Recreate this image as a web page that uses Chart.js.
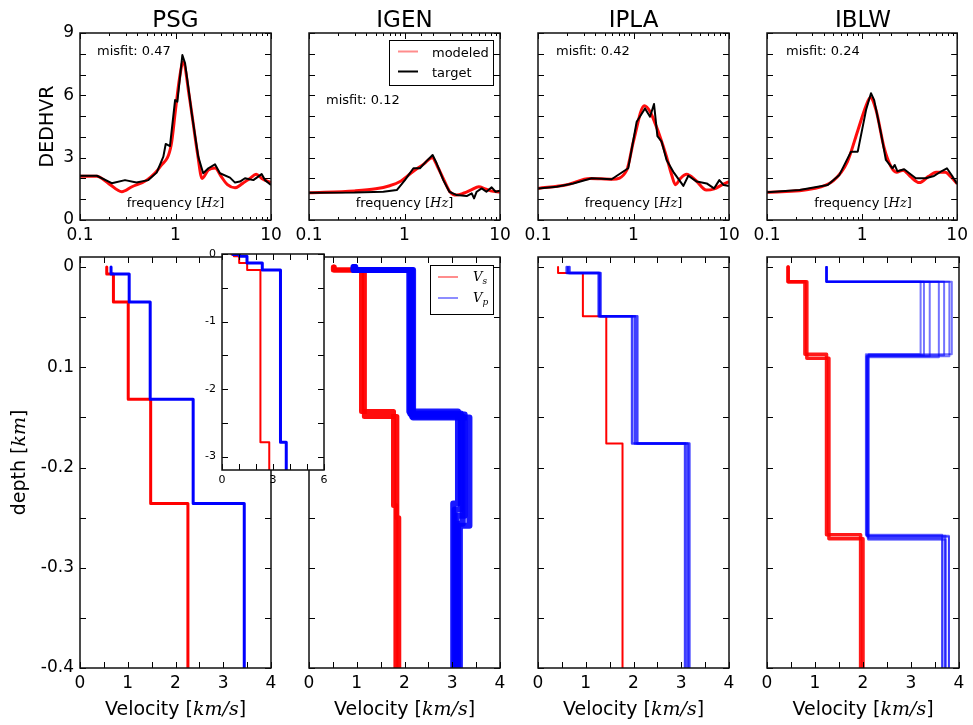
<!DOCTYPE html>
<html>
<head>
<meta charset="utf-8">
<title>HVSR inversion</title>
<script src="https://cdn.jsdelivr.net/npm/chart.js@4.4.0/dist/chart.umd.min.js"></script>
<style>
  html, body { margin: 0; padding: 0; background: #fff; }
  #page { position: relative; width: 973px; height: 725px; }
  #page canvas { position: absolute; left: 0; top: 0; }
</style>
</head>
<body>
<div id="page"></div>
<script>
// ---------- HVSR curves: frequency [Hz] / amplitude ----------
const stations = ['PSG', 'IGEN', 'IPLA', 'IBLW'];
const misfits = ['0.47', '0.12', '0.42', '0.24'];

const psgTargetF = [0.1, 0.15, 0.215, 0.296, 0.39, 0.52, 0.635, 0.746, 0.79, 0.875, 0.99, 1.045, 1.18, 1.26, 1.36, 1.48, 1.73, 1.95, 2.21, 2.59, 2.92, 3.72, 4.2, 4.73, 5.34, 6.53, 7.98, 8.65, 10];
const psgTargetA = [2.13, 2.13, 1.77, 1.92, 1.80, 1.92, 2.28, 3.05, 3.66, 3.56, 5.77, 5.69, 7.94, 7.54, 6.41, 5.13, 3.05, 2.25, 2.49, 2.68, 2.25, 2.04, 1.80, 1.85, 2.01, 1.92, 2.21, 1.92, 1.68];
const psgModelF = [0.1, 0.15, 0.2, 0.274, 0.35, 0.5, 0.7, 0.9, 1.0, 1.1, 1.2, 1.4, 1.7, 1.9, 2.2, 2.6, 3.0, 3.5, 4.2, 5, 6, 7, 8, 10];
const psgModelA = [2.1, 2.1, 1.75, 1.36, 1.6, 1.92, 2.6, 3.6, 5.3, 6.8, 7.6, 5.9, 3.2, 2.0, 2.4, 2.5, 2.1, 1.7, 1.55, 1.75, 2.0, 2.2, 2.0, 1.8];

const igenTargetF = [0.1, 0.3, 0.6, 0.83, 1.01, 1.24, 1.45, 1.68, 1.97, 2.17, 2.55, 2.95, 3.52, 4.48, 5.06, 5.35, 5.7, 6.43, 7.2, 8.18, 9.0, 10];
const igenTargetA = [1.31, 1.32, 1.36, 1.44, 1.92, 2.49, 2.49, 2.81, 3.13, 2.73, 1.92, 1.36, 1.20, 1.15, 1.28, 1.04, 1.36, 1.52, 1.36, 1.57, 1.36, 1.41];
const igenModelF = [0.1, 0.3, 0.5, 0.7, 0.9, 1.2, 1.6, 1.95, 2.2, 2.6, 3.0, 3.5, 4.2, 5, 6, 7, 8, 10];
const igenModelA = [1.31, 1.4, 1.5, 1.65, 1.85, 2.3, 2.7, 3.0, 2.6, 1.9, 1.35, 1.2, 1.3, 1.45, 1.6, 1.5, 1.4, 1.35];

const iplaTargetF = [0.1, 0.157, 0.234, 0.365, 0.59, 0.88, 1.08, 1.32, 1.49, 1.64, 1.78, 1.97, 2.22, 2.61, 3.33, 3.75, 4.59, 5.84, 6.97, 7.92, 8.8, 10];
const iplaTargetA = [1.52, 1.6, 1.76, 2.01, 1.96, 2.49, 4.73, 5.37, 4.97, 5.58, 4.04, 3.77, 2.89, 2.32, 1.64, 2.13, 1.85, 1.76, 1.52, 1.92, 1.68, 1.64];
const iplaModelF = [0.1, 0.2, 0.35, 0.6, 0.85, 1.0, 1.3, 1.5, 1.7, 1.9, 2.2, 2.5, 2.75, 3.1, 3.6, 4.5, 5.8, 7, 8.5, 10];
const iplaModelA = [1.52, 1.7, 2.0, 1.96, 2.4, 3.8, 5.5, 5.2, 4.6, 4.0, 3.1, 2.2, 1.7, 2.0, 2.2, 1.9, 1.44, 1.5, 1.7, 1.85];

const iblwTargetF = [0.1, 0.22, 0.435, 0.577, 0.765, 0.9, 1.1, 1.24, 1.34, 1.58, 1.78, 2.09, 2.2, 2.35, 2.77, 3.67, 4.67, 5.71, 6.97, 7.8, 8.87, 10];
const iblwTargetA = [1.33, 1.44, 1.68, 2.17, 3.29, 3.29, 5.29, 6.10, 5.77, 4.17, 2.89, 2.49, 2.65, 2.35, 2.44, 2.01, 2.01, 2.12, 2.37, 2.49, 2.12, 1.73];
const iblwModelF = [0.1, 0.3, 0.5, 0.7, 0.9, 1.1, 1.22, 1.4, 1.7, 2.0, 2.3, 2.7, 3.2, 4.0, 5, 6, 7.5, 8.5, 10];
const iblwModelA = [1.33, 1.5, 1.9, 2.8, 4.3, 5.5, 5.9, 5.3, 3.5, 2.6, 2.3, 2.4, 2.1, 1.8, 2.1, 2.3, 2.3, 2.1, 1.75];

// ---------- velocity profiles: layer interfaces [km] / velocities [km/s] ----------
const psgDepth = [0, -0.007, -0.035, -0.132, -0.236, -2.79, -3.2];
const psgVs = [0.56, 0.70, 1.01, 1.48, 2.26, 2.78];
const psgVp = [0.65, 1.03, 1.47, 2.37, 3.44, 3.78];

const igenVsDepths = [[0, -0.003, -0.144, -0.238, -0.4], [0, -0.003, -0.149, -0.25, -0.4]];
const igenVsModels = [[0.51, 1.10, 1.77, 1.82], [0.53, 1.16, 1.84, 1.88]];
const igenVpDepths = [
  [0, -0.003, -0.144, -0.236, -0.4], [0, -0.003, -0.146, -0.242, -0.4], [0, -0.003, -0.147, -0.248, -0.4],
  [0, -0.003, -0.149, -0.256, -0.4], [0, -0.003, -0.150, -0.258, -0.4]
];
const igenVpModels = [
  [0.93, 2.10, 3.12, 3.02], [0.94, 2.12, 3.18, 3.05], [0.95, 2.14, 3.26, 3.09],
  [0.96, 2.16, 3.22, 3.12], [0.97, 2.18, 3.36, 3.16]
];

const iplaDepth = [0, -0.006, -0.049, -0.176, -0.4];
const iplaVs = [0.42, 0.94, 1.43, 1.77];
const iplaVpModels = [[0.60, 1.27, 1.97, 3.08], [0.63, 1.29, 2.03, 3.13], [0.66, 1.31, 2.08, 3.17]];

const iblwVsDepths = [[0, -0.0146, -0.087, -0.267, -0.4], [0, -0.0146, -0.091, -0.271, -0.4]];
const iblwVsModels = [[0.44, 0.79, 1.24, 1.95], [0.44, 0.83, 1.29, 2.00]];
const iblwVpZ1 = -0.0146;
const iblwVpZ2 = [-0.087, -0.088, -0.089, -0.090, -0.088, -0.089, -0.087];
const iblwVpZ3 = [-0.267, -0.268, -0.269, -0.271, -0.272, -0.268, -0.270];
const iblwVp1 = 1.24;
const iblwVp2 = [3.20, 3.27, 3.39, 3.58, 3.69, 3.80, 3.85];
const iblwVp3 = [2.06, 2.08, 2.09, 2.10, 2.11, 2.07, 2.12];
const iblwVp4 = [3.65, 3.72, 3.79, 3.65, 3.72, 3.79, 3.70];

// ---------- tick labels ----------
const hvLabels = ['0', '3', '6', '9'];
const depthTickLabels = { '0': '0', '-10': '0.1', '-20': '-0.2', '-30': '-0.3', '-40': '-0.4' };

// ---------- layout ----------
const W = 973, H = 725;
const COLS = [[80, 271], [309, 500], [538, 729], [767, 959]];
const TOP = [33, 220];
const BOT = [257, 668];
const INSET = [222, 254, 324, 470];
const SANS = '"DejaVu Sans", sans-serif';
const MATH = '"DejaVu Serif", serif';
const page = document.getElementById('page');

const sans = (text, size, dy) => ({ text, font: `${size}px ${SANS}`, dy: dy || 0 });
const math = (text, size, dy) => ({ text, font: `italic ${size}px ${MATH}`, dy: dy || 0 });

const pts = (xs, ys) => xs.map((x, i) => ({ x, y: ys[i] }));

// vertical step profile: each velocity holds between two interfaces
function steps(depths, vels) {
  const out = [];
  vels.forEach((v, i) => { out.push({ x: v, y: depths[i] }, { x: v, y: depths[i + 1] }); });
  return out;
}

function curve(data, color, width, order, smooth) {
  return {
    data, showLine: true, borderColor: color, borderWidth: width, pointRadius: 0,
    order, cubicInterpolationMode: smooth ? 'monotone' : 'default', tension: 0,
    borderJoinStyle: 'round', borderCapStyle: 'butt'
  };
}

function drawRuns(ctx, it) {
  ctx.save();
  ctx.translate(it.x, it.y);
  if (it.rotate) ctx.rotate(it.rotate);
  ctx.textBaseline = 'alphabetic';
  ctx.textAlign = 'left';
  ctx.fillStyle = '#000';
  let total = 0;
  it.runs.forEach(r => { ctx.font = r.font; r.w = ctx.measureText(r.text).width; total += r.w; });
  let x = it.align === 'left' ? 0 : -total / 2;
  it.runs.forEach(r => { ctx.font = r.font; ctx.fillText(r.text, x, r.dy); x += r.w; });
  ctx.restore();
}

// frame round the plot area, with inward ticks on all four sides
const framePlugin = {
  id: 'frame',
  beforeDraw(chart, args, opts) {
    if (!opts.white) return;
    const a = chart.chartArea, ctx = chart.ctx;
    ctx.save();
    ctx.fillStyle = '#fff';
    ctx.fillRect(a.left, a.top, a.right - a.left, a.bottom - a.top);
    ctx.restore();
  },
  afterDraw(chart, args, opts) {
    const { ctx, chartArea: a, scales } = chart;
    const major = opts.major || 6, minor = opts.minor || 3;
    ctx.save();
    ctx.strokeStyle = '#000';
    ctx.lineWidth = 1;
    ctx.beginPath();
    scales.x.ticks.forEach(t => {
      const p = Math.round(scales.x.getPixelForValue(t.value)) + 0.5;
      let len = major;
      if (scales.x.type === 'logarithmic') {
        const e = Math.log10(t.value);
        len = Math.abs(e - Math.round(e)) < 1e-6 ? major : minor;
      }
      ctx.moveTo(p, a.bottom); ctx.lineTo(p, a.bottom - len);
      ctx.moveTo(p, a.top); ctx.lineTo(p, a.top + len);
    });
    scales.y.ticks.forEach(t => {
      const p = Math.round(scales.y.getPixelForValue(t.value)) + 0.5;
      ctx.moveTo(a.left, p); ctx.lineTo(a.left + major, p);
      ctx.moveTo(a.right, p); ctx.lineTo(a.right - major, p);
    });
    ctx.stroke();
    ctx.lineWidth = 1.5;
    ctx.strokeStyle = '#111';
    ctx.strokeRect(a.left, a.top, a.right - a.left, a.bottom - a.top);
    ctx.restore();
  }
};

// free text and boxed legends placed in page coordinates
const notesPlugin = {
  id: 'notes',
  afterDraw(chart, args, opts) {
    const ctx = chart.ctx;
    (opts.items || []).forEach(it => {
      if (it.box) {
        const [x0, y0, x1, y1] = it.box;
        ctx.save();
        ctx.fillStyle = '#fff';
        ctx.fillRect(x0, y0, x1 - x0, y1 - y0);
        ctx.strokeStyle = '#000';
        ctx.lineWidth = 1;
        ctx.strokeRect(x0 + 0.5, y0 + 0.5, x1 - x0, y1 - y0);
        it.rows.forEach(r => {
          ctx.strokeStyle = r.color;
          ctx.lineWidth = r.lw;
          ctx.beginPath();
          ctx.moveTo(r.x0, r.y); ctx.lineTo(r.x1, r.y);
          ctx.stroke();
          drawRuns(ctx, { x: r.tx, y: r.ty, runs: r.runs, align: 'left' });
        });
        ctx.restore();
      } else {
        drawRuns(ctx, it);
      }
    });
  }
};

// axis boxes get a fixed size so the plot area lands where the layout says
function axis(size, opts, tickOpts) {
  return Object.assign({
    grid: { display: false, drawTicks: false },
    border: { display: false },
    afterFit(s) { if (s.isHorizontal()) s.height = size; else s.width = size; }
  }, opts, {
    ticks: Object.assign({
      autoSkip: false, maxRotation: 0, minRotation: 0, color: '#000',
      font: { family: SANS, size: 17 }
    }, tickOpts)
  });
}

function makeChart(area, spec) {
  const cv = document.createElement('canvas');
  cv.width = W; cv.height = H;
  cv.style.width = W + 'px'; cv.style.height = H + 'px';
  page.appendChild(cv);
  const yW = spec.yW, xH = spec.xH;
  return new Chart(cv, {
    type: 'scatter',
    data: { datasets: spec.datasets },
    options: {
      responsive: false, animation: false, events: [], devicePixelRatio: 1,
      layout: { padding: { left: area[0] - yW, top: area[1], right: W - area[2], bottom: H - area[3] - xH } },
      scales: { x: axis(xH, spec.x, spec.xTicks), y: axis(yW, spec.y, spec.yTicks) },
      plugins: {
        legend: { display: false }, tooltip: { enabled: false },
        frame: spec.frame || {}, notes: { items: spec.notes || [] }
      }
    },
    plugins: [framePlugin, notesPlugin]
  });
}

// ---------- top row: HVSR fits ----------
const hvTargets = [[psgTargetF, psgTargetA], [igenTargetF, igenTargetA], [iplaTargetF, iplaTargetA], [iblwTargetF, iblwTargetA]];
const hvModels = [[psgModelF, psgModelA], [igenModelF, igenModelA], [iplaModelF, iplaModelA], [iblwModelF, iblwModelA]];
const misfitPos = [[97, 55], [326, 104], [556, 55], [786, 55]];

stations.forEach((name, i) => {
  const [l, r] = COLS[i];
  const cx = (l + r) / 2;
  const notes = [
    { x: cx, y: 27, runs: [sans(name, 23)] },
    { x: cx, y: 207, runs: [sans('frequency [', 13), math('Hz', 13), sans(']', 13)] },
    { x: misfitPos[i][0], y: misfitPos[i][1], align: 'left', runs: [sans('misfit: ' + misfits[i], 13)] }
  ];
  if (i === 0) notes.push({ x: 53, y: (TOP[0] + TOP[1]) / 2, rotate: -Math.PI / 2, runs: [sans('DEDHVR', 19)] });
  if (i === 1) notes.push({
    box: [389, 40, 493, 85],
    rows: [
      { y: 51.5, x0: 398, x1: 418, color: 'rgba(255,0,0,0.45)', lw: 2, tx: 432, ty: 56.5, runs: [sans('modeled', 13)] },
      { y: 71.5, x0: 398, x1: 418, color: '#000', lw: 2, tx: 432, ty: 76.5, runs: [sans('target', 13)] }
    ]
  });
  makeChart([l, TOP[0], r, TOP[1]], {
    yW: 60, xH: 30,
    datasets: [
      curve(pts(hvTargets[i][0], hvTargets[i][1]), '#000', 2, 0, false),
      curve(pts(hvModels[i][0], hvModels[i][1]), 'rgba(255,0,0,0.95)', 3, 1, true)
    ],
    x: { type: 'logarithmic', min: 0.1, max: 10 },
    xTicks: {
      padding: 5,
      callback: v => { const e = Math.log10(v); return Math.abs(e - Math.round(e)) < 1e-6 ? String(+v.toPrecision(3)) : ''; }
    },
    y: { type: 'linear', min: 0, max: 9 },
    yTicks: {
      stepSize: 1, padding: 6, display: i === 0,
      callback: v => (v % 3 === 0 ? hvLabels[v / 3] : '')
    },
    notes
  });
});

// ---------- bottom row: velocity profiles ----------
const RED = '#ff0000', BLUE = '#0000ff';
const profileSets = [
  [
    curve(steps(psgDepth, psgVp), BLUE, 3, 0),
    curve(steps(psgDepth, psgVs), RED, 3, 1)
  ],
  [
    ...igenVpModels.map((m, k) => curve(steps(igenVpDepths[k], m), 'rgba(0,0,255,0.9)', 6, 0)),
    ...igenVsModels.map((m, k) => curve(steps(igenVsDepths[k], m), 'rgba(255,0,0,0.95)', 5, 1))
  ],
  [
    ...iplaVpModels.map(m => curve(steps(iplaDepth, m), 'rgba(0,0,255,0.75)', 2.5, 0)),
    curve(steps(iplaDepth, iplaVs), RED, 2, 1)
  ],
  [
    ...iblwVp2.map((v, k) => curve(steps([0, iblwVpZ1, iblwVpZ2[k], iblwVpZ3[k], -0.4], [iblwVp1, v, iblwVp3[k], iblwVp4[k]]), 'rgba(0,0,255,0.55)', 2, 0)),
    ...iblwVsModels.map((m, k) => curve(steps(iblwVsDepths[k], m), 'rgba(255,0,0,0.9)', 3.5, 1))
  ]
];

stations.forEach((name, i) => {
  const [l, r] = COLS[i];
  const cx = (l + r) / 2;
  const notes = [
    { x: cx, y: 715, runs: [sans('Velocity [', 19), math('km/s', 19), sans(']', 19)] }
  ];
  if (i === 0) notes.push({ x: 25, y: (BOT[0] + BOT[1]) / 2, rotate: -Math.PI / 2, runs: [sans('depth [', 19), math('km', 19), sans(']', 19)] });
  if (i === 1) notes.push({
    box: [430, 265, 493, 314],
    rows: [
      { y: 277, x0: 438, x1: 458, color: 'rgba(255,0,0,0.6)', lw: 1.5, tx: 473, ty: 281, runs: [math('V', 13), math('s', 9, 3)] },
      { y: 298, x0: 438, x1: 458, color: 'rgba(0,0,255,0.6)', lw: 1.5, tx: 473, ty: 302, runs: [math('V', 13), math('p', 9, 3)] }
    ]
  });
  makeChart([l, BOT[0], r, BOT[1]], {
    yW: 60, xH: 30,
    datasets: profileSets[i],
    x: { type: 'linear', min: 0, max: 4 },
    xTicks: {
      stepSize: 0.5, padding: 5,
      callback: v => (Number.isInteger(v) ? String(v) : '')
    },
    y: { type: 'linear', min: -0.4, max: 0.01 },
    yTicks: {
      stepSize: 0.05, includeBounds: false, padding: 6, display: i === 0,
      callback: v => depthTickLabels[String(Math.round(v * 100))] || ''
    },
    notes
  });
});

// ---------- inset: full PSG profile down to 3.2 km ----------
makeChart(INSET, {
  yW: 30, xH: 20,
  datasets: [
    curve(steps(psgDepth, psgVp), BLUE, 3, 0),
    curve(steps(psgDepth, psgVs), RED, 2, 1)
  ],
  x: { type: 'linear', min: 0, max: 6 },
  xTicks: {
    stepSize: 1, padding: 4, font: { family: SANS, size: 11 },
    callback: v => (v % 3 === 0 ? String(v) : '')
  },
  y: { type: 'linear', min: -3.2, max: 0 },
  yTicks: {
    stepSize: 0.5, includeBounds: false, padding: 6, font: { family: SANS, size: 11 },
    callback: v => (Number.isInteger(v) ? String(v) : '')
  },
  frame: { white: true, major: 6, minor: 3 }
});
</script>
</body>
</html>
